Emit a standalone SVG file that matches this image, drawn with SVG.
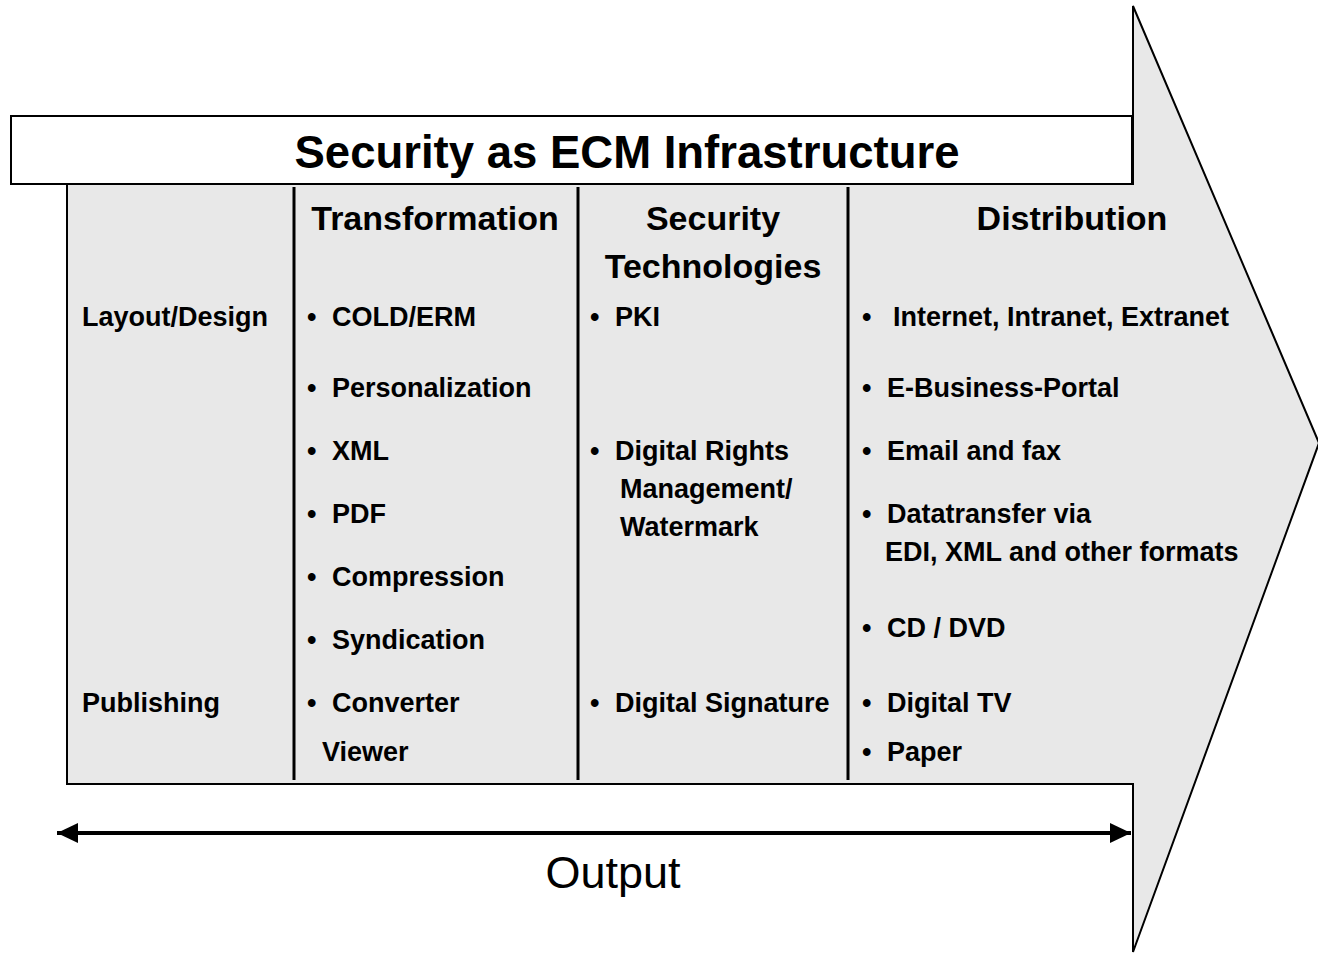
<svg xmlns="http://www.w3.org/2000/svg" width="1318" height="953" viewBox="0 0 1318 953">
<style>
  text { font-family: "Liberation Sans", Arial, sans-serif; fill: #000; }
  .title { font-size: 45.5px; font-weight: bold; }
  .head { font-size: 34px; font-weight: bold; }
  .item { font-size: 27px; font-weight: bold; }
  .out { font-size: 45px; }
  .div { stroke: #000; stroke-width: 3; }
</style>
<defs>
  <marker id="ah" markerWidth="22" markerHeight="22" refX="21" refY="11" orient="auto-start-reverse" markerUnits="userSpaceOnUse">
    <path d="M0,1 L21,11 L0,21 Z" fill="#000"/>
  </marker>
</defs>
<rect width="1318" height="953" fill="#fff"/>
<g id="arrow-shape">
  <path d="M67,184 H1133 V6 L1319,443 L1133,952 V784 H67 Z" fill="#e8e8e8" stroke="#000" stroke-width="2"/>
</g>
<g id="title-box">
  <rect x="11" y="116" width="1121" height="68" fill="#fff" stroke="#000" stroke-width="2"/>
  <text class="title" x="627" y="168" text-anchor="middle">Security as ECM Infrastructure</text>
</g>
<rect x="579" y="185" width="268" height="597" fill="#e8e8e8"/>
<g id="dividers">
  <line class="div" x1="294" y1="187" x2="294" y2="780"/>
  <line class="div" x1="578" y1="187" x2="578" y2="780"/>
  <line class="div" x1="848" y1="187" x2="848" y2="780"/>
</g>
<g id="col-labels">
  <text class="item" x="82" y="326">Layout/Design</text>
  <text class="item" x="82" y="712">Publishing</text>
</g>
<g id="col-transformation">
  <text class="head" x="435" y="230" text-anchor="middle">Transformation</text>
  <text class="item" x="307" y="326">•</text><text class="item" x="332" y="326">COLD/ERM</text>
  <text class="item" x="307" y="397">•</text><text class="item" x="332" y="397">Personalization</text>
  <text class="item" x="307" y="460">•</text><text class="item" x="332" y="460">XML</text>
  <text class="item" x="307" y="523">•</text><text class="item" x="332" y="523">PDF</text>
  <text class="item" x="307" y="586">•</text><text class="item" x="332" y="586">Compression</text>
  <text class="item" x="307" y="649">•</text><text class="item" x="332" y="649">Syndication</text>
  <text class="item" x="307" y="712">•</text><text class="item" x="332" y="712">Converter</text>
  <text class="item" x="322" y="761">Viewer</text>
</g>
<g id="col-security">
  <text class="head" x="713" y="230" text-anchor="middle">Security</text>
  <text class="head" x="713" y="278" text-anchor="middle">Technologies</text>
  <text class="item" x="590" y="326">•</text><text class="item" x="615" y="326">PKI</text>
  <text class="item" x="590" y="460">•</text><text class="item" x="615" y="460">Digital Rights</text>
  <text class="item" x="620" y="498">Management/</text>
  <text class="item" x="620" y="536">Watermark</text>
  <text class="item" x="590" y="712">•</text><text class="item" x="615" y="712">Digital Signature</text>
</g>
<g id="col-distribution">
  <text class="head" x="1072" y="230" text-anchor="middle">Distribution</text>
  <text class="item" x="862" y="326">•</text><text class="item" x="893" y="326">Internet, Intranet, Extranet</text>
  <text class="item" x="862" y="397">•</text><text class="item" x="887" y="397">E-Business-Portal</text>
  <text class="item" x="862" y="460">•</text><text class="item" x="887" y="460">Email and fax</text>
  <text class="item" x="862" y="523">•</text><text class="item" x="887" y="523">Datatransfer via</text>
  <text class="item" x="885" y="561">EDI, XML and other formats</text>
  <text class="item" x="862" y="637">•</text><text class="item" x="887" y="637">CD / DVD</text>
  <text class="item" x="862" y="712">•</text><text class="item" x="887" y="712">Digital TV</text>
  <text class="item" x="862" y="761">•</text><text class="item" x="887" y="761">Paper</text>
</g>
<g id="connectors">
  <line x1="57" y1="833" x2="1131" y2="833" stroke="#000" stroke-width="4" marker-start="url(#ah)" marker-end="url(#ah)"/>
</g>
<g id="output-label">
  <text class="out" x="613" y="888" text-anchor="middle">Output</text>
</g>
</svg>
